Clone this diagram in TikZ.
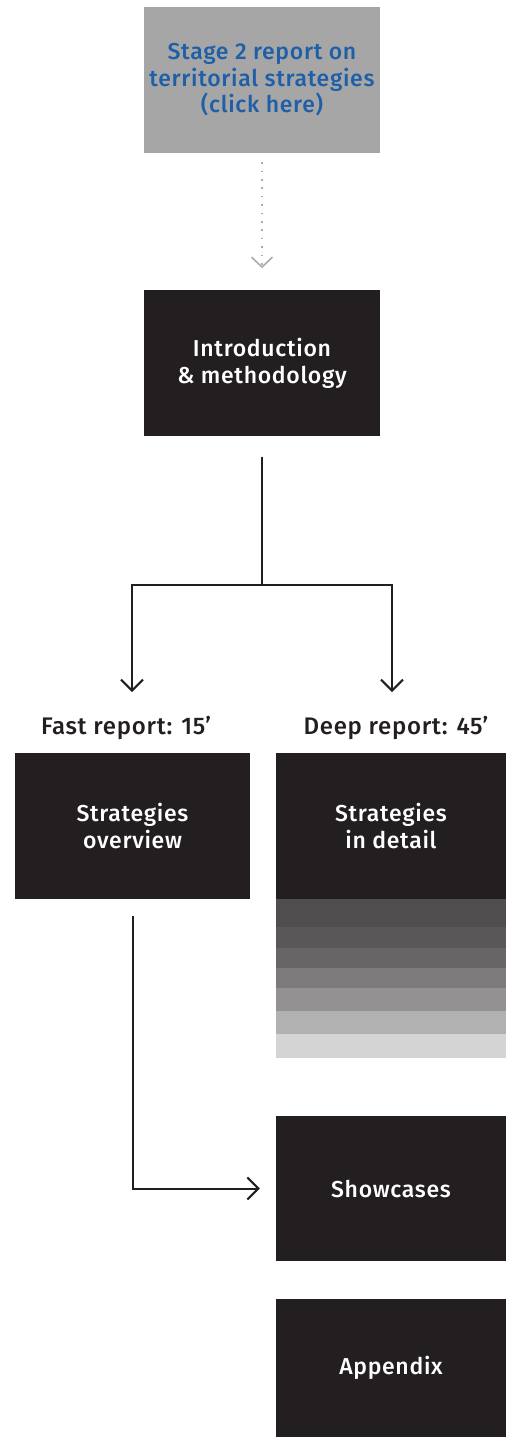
\documentclass[tikz,border=0pt]{standalone}
\usepackage{fontspec}
\setmainfont{Fira Sans Medium}[LetterSpace=3]
\usetikzlibrary{positioning, arrows.meta}
\definecolor{boxblack}{HTML}{231F20}
\definecolor{linkgrey}{HTML}{A6A6A6}
\definecolor{linkblue}{HTML}{1F5FA8}
\definecolor{dotgrey}{HTML}{ABABAB}

\begin{document}
\begin{tikzpicture}[x=1pt, y=-1pt,
		darkbox/.style={rectangle, fill=boxblack, text=white, inner sep=0pt, align=center, minimum height=146pt, font=\fontsize{23}{26.5}\selectfont},
		linkbox/.style={darkbox, fill=linkgrey, text=linkblue},
		heading/.style={font=\fontsize{24}{26}\selectfont, text=boxblack},
		flow/.style={draw=boxblack, line width=2pt, -{Straight Barb[length=11pt, width=22pt, line width=2pt]}}]
			\useasboundingbox (0,0) rectangle (506,1437);
			\node (stage) [linkbox, minimum width=236pt] at (262,80) {Stage 2 report on\\territorial strategies\\(click here)};
			\node (intro) [darkbox, minimum width=236pt, below=137pt of stage] {Introduction\\\& methodology};
			\node (fast) [heading] at (126,728) {Fast report: 15’};
			\node (deep) [heading] at (396,728) {Deep report: 45’};
			\node (overview) [darkbox, minimum width=235pt] at (132.5,826) {Strategies\\overview};
			\node (detail) [darkbox, minimum width=230pt] at (391,826) {Strategies\\in detail};
			\foreach \top/\bot/\shade in {899/927/504D4E, 927/948/5A5758, 948/968/686566, 968/988/7D7A7B, 988/1011/939192, 1011/1034/B1B1B1, 1034/1058/D4D4D4}{
				\definecolor{stripe}{HTML}{\shade}
				\fill[stripe] (276,\top) rectangle (506,\bot);
			}
			\node (showcases) [darkbox, minimum width=230pt, minimum height=145pt] at (391,1188.5) {Showcases};
			\node (appendix) [darkbox, minimum width=230pt, minimum height=138pt] at (391,1368) {Appendix};
			
			\coordinate (split) at (262,585);
			\coordinate (fastin) at (132,692);
			\coordinate (deepin) at (392,692);
			
			\draw[dotgrey, line width=1.6pt, dash pattern=on 1.6pt off 6.8pt, -{Straight Barb[length=10pt, width=21pt, line width=1.6pt]}]
			([yshift=-9pt]stage.south) -- ([yshift=22pt]intro.north);
			\draw[flow] ([yshift=-20pt]intro.south) -- (split) -| (fastin);
			\draw[flow] (split) -| (deepin);
			\draw[flow] ([yshift=-17pt]overview.south) |- ([xshift=-16pt]showcases.west);
		\end{tikzpicture}
\end{document}
